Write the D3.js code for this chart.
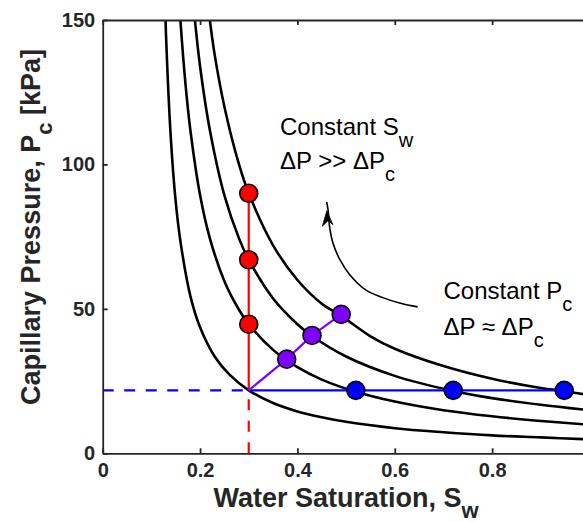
<!DOCTYPE html>
<html>
<head>
<meta charset="utf-8">
<script src="https://cdn.jsdelivr.net/npm/d3@7"></script>
<style>
  html, body { margin: 0; padding: 0; background: #fff; }
  svg { display: block; font-family: "Liberation Sans", Arial, Helvetica, sans-serif; }
</style>
</head>
<body>
<svg id="chart" width="583" height="522"></svg>
<script>
// ---------------- data ----------------
const xTickValues = [0, 0.2, 0.4, 0.6, 0.8];
const xTickLabels = ["0", "0.2", "0.4", "0.6", "0.8"];
const yTickValues = [0, 50, 100, 150];
const yTickLabels = ["0", "50", "100", "150"];

// four capillary-pressure curves (Sw, Pc in kPa)
const curve1Sw = [0.125, 0.13, 0.14, 0.15, 0.16, 0.18, 0.2, 0.23, 0.26, 0.3, 0.35, 0.4, 0.45, 0.5, 0.6, 0.7, 0.8, 0.9, 1.0];
const curve1Pc = [174, 145, 109, 87, 73, 54.5, 43.6, 33.5, 27.3, 21.8, 17.4, 14.5, 12.5, 10.9, 8.7, 7.3, 6.2, 5.5, 4.8];
const curve2Sw = [0.155, 0.16, 0.17, 0.18, 0.2, 0.22, 0.25, 0.28, 0.3, 0.35, 0.4, 0.45, 0.52, 0.6, 0.7, 0.8, 0.9, 1.0];
const curve2Pc = [162.5, 149, 128, 112, 89.4, 74.5, 59.6, 49.7, 44.7, 35.8, 29.8, 25.5, 21.3, 17.9, 14.9, 12.8, 11.2, 9.9];
const curve3Sw = [0.185, 0.19, 0.2, 0.22, 0.25, 0.28, 0.3, 0.35, 0.4, 0.43, 0.5, 0.6, 0.72, 0.8, 0.9, 1.0];
const curve3Pc = [158, 149, 134, 112, 89.3, 74.4, 67, 53.6, 44.7, 40.6, 33.5, 26.8, 21.6, 19.1, 16.8, 14.9];
const curve4Sw = [0.215, 0.22, 0.23, 0.25, 0.28, 0.3, 0.35, 0.4, 0.45, 0.49, 0.55, 0.6, 0.7, 0.8, 0.9, 0.95, 1.0];
const curve4Pc = [156.5, 150, 138, 120, 100, 90, 72, 60, 51.8, 47.6, 40.5, 36.2, 30.2, 25.8, 22.6, 21.5, 20.1];

const startSw = 0.3, startPc = 21.8;
// constant Sw (red)
const redSw = [0.3, 0.3, 0.3];
const redPc = [44.7, 67, 90];
// constant Pc (blue)
const blueSw = [0.52, 0.72, 0.948];
const bluePc = [21.8, 21.8, 21.8];
// intermediate path (purple)
const purpleSw = [0.378, 0.43, 0.49];
const purplePc = [32.6, 40.8, 48.1];

// curved annotation arrow (Sw, Pc)
const arrowSw = [0.647, 0.610, 0.541, 0.507, 0.487, 0.473, 0.466, 0.463, 0.460];
const arrowPc = [50.7, 52.0, 56.5, 61.9, 67.1, 72.8, 78.5, 84.2, 87.0];

// ---------------- drawing ----------------
const svg = d3.select("#chart");
const W = 583, H = 522;
const x = d3.scaleLinear().domain([0, 1]).range([102.7, 589.5]);
const y = d3.scaleLinear().domain([0, 150]).range([453.3, 20]);
const axisColor = "#262626";

svg.append("rect").attr("width", W).attr("height", H).attr("fill", "#fff");

svg.append("defs").append("clipPath").attr("id", "plotclip")
  .append("rect")
  .attr("x", x(0)).attr("y", y(150))
  .attr("width", x(1) - x(0)).attr("height", y(0) - y(150));

const plot = svg.append("g").attr("clip-path", "url(#plotclip)");

const line = d3.line().x(d => x(d[0])).y(d => y(d[1])).curve(d3.curveCatmullRom.alpha(0.5));
const curves = [
  [curve1Sw, curve1Pc], [curve2Sw, curve2Pc], [curve3Sw, curve3Pc], [curve4Sw, curve4Pc]
];
curves.forEach(([sw, pc]) => {
  plot.append("path")
    .datum(sw.map((s, i) => [s, pc[i]]))
    .attr("d", line)
    .attr("fill", "none")
    .attr("stroke", "#000")
    .attr("stroke-width", 2.6);
});

const straight = d3.line().x(d => x(d[0])).y(d => y(d[1]));

// dashed guide lines
plot.append("path").datum([[0, startPc], [startSw, startPc]]).attr("d", straight)
  .attr("stroke", "#0000ff").attr("stroke-width", 2.2).attr("stroke-dasharray", "11,10.5").attr("fill", "none");
plot.append("path").datum([[startSw, 0], [startSw, startPc]]).attr("d", straight)
  .attr("stroke", "#ff0000").attr("stroke-width", 2.2).attr("stroke-dasharray", "11,10.5").attr("fill", "none");

// solid paths
plot.append("path").datum([[startSw, startPc]].concat(redSw.map((s, i) => [s, redPc[i]]))).attr("d", straight)
  .attr("stroke", "#ff0000").attr("stroke-width", 2.2).attr("fill", "none");
plot.append("path").datum([[startSw, startPc]].concat(blueSw.map((s, i) => [s, bluePc[i]]))).attr("d", straight)
  .attr("stroke", "#0000ff").attr("stroke-width", 2.2).attr("fill", "none");
plot.append("path").datum([[startSw, startPc]].concat(purpleSw.map((s, i) => [s, purplePc[i]]))).attr("d", straight)
  .attr("stroke", "#8000ff").attr("stroke-width", 2.2).attr("fill", "none");

// markers
function dots(sw, pc, color) {
  svg.append("g").selectAll("circle").data(sw.map((s, i) => [s, pc[i]])).join("circle")
    .attr("cx", d => x(d[0])).attr("cy", d => y(d[1])).attr("r", 9)
    .attr("fill", color).attr("stroke", "#000").attr("stroke-width", 1.6);
}
dots(redSw, redPc, "#ff0000");
dots(purpleSw, purplePc, "#8000ff");
dots(blueSw, bluePc, "#0000ff");

// arrow
const arrowPts = arrowSw.map((s, i) => [s, arrowPc[i]]);
svg.append("path").datum(arrowPts)
  .attr("d", d3.line().x(d => x(d[0])).y(d => y(d[1])).curve(d3.curveCatmullRom.alpha(0.5)))
  .attr("fill", "none").attr("stroke", "#000").attr("stroke-width", 1.6);
{
  const tip = [x(0.4605), y(84.0)];
  svg.append("path")
    .attr("d", `M${tip[0]},${tip[1]} L${tip[0] + 6},${tip[1] + 14} L${tip[0] + 1.2},${tip[1] + 10} L${tip[0] - 4.5},${tip[1] + 15.5} Z`)
    .attr("fill", "#000").attr("stroke", "#000").attr("stroke-width", 0.8).attr("stroke-linejoin", "miter");
}

// axes
function styleAxis(g) {
  g.select(".domain").attr("stroke", axisColor).attr("stroke-width", 1.8);
  g.selectAll(".tick line").attr("stroke", axisColor).attr("stroke-width", 1.8);
  g.selectAll(".tick text").attr("fill", axisColor)
    .attr("font-family", "'Liberation Sans', Arial, Helvetica, sans-serif")
    .attr("font-weight", "bold").attr("font-size", 20);
}
const gx = svg.append("g").attr("transform", `translate(0,${y(0)})`)
  .call(d3.axisBottom(x).tickValues(xTickValues).tickFormat((d, i) => xTickLabels[i])
    .tickSizeInner(-5).tickSizeOuter(0).tickPadding(10));
styleAxis(gx);
const gxt = svg.append("g").attr("transform", `translate(0,${y(150)})`)
  .call(d3.axisTop(x).tickValues(xTickValues).tickFormat("").tickSizeInner(-5).tickSizeOuter(0));
styleAxis(gxt);
const gy = svg.append("g").attr("transform", `translate(${x(0)},0)`)
  .call(d3.axisLeft(y).tickValues(yTickValues).tickFormat((d, i) => yTickLabels[i])
    .tickSizeInner(-5).tickSizeOuter(0).tickPadding(7.5));
styleAxis(gy);
const gyr = svg.append("g").attr("transform", `translate(${x(1)},0)`)
  .call(d3.axisRight(y).tickValues(yTickValues).tickFormat("").tickSizeInner(-5).tickSizeOuter(0));
styleAxis(gyr);

// axis titles
const xt = svg.append("text").attr("x", 346).attr("y", 506.7).attr("text-anchor", "middle")
  .attr("font-weight", "bold").attr("font-size", 27).attr("fill", axisColor);
xt.append("tspan").text("Water Saturation, S");
xt.append("tspan").attr("dy", 11.5).attr("font-size", 22).text("w");

const yt = svg.append("text").attr("transform", "translate(40,227) rotate(-90)").attr("text-anchor", "middle")
  .attr("font-weight", "bold").attr("font-size", 27).attr("fill", axisColor);
yt.append("tspan").text("Capillary Pressure, P");
yt.append("tspan").attr("dy", 11.5).attr("font-size", 22).text("c");
yt.append("tspan").attr("dy", -11.5).text(" [kPa]");

// annotations
function annot(xp, yp, main, sub) {
  const t = svg.append("text").attr("x", xp).attr("y", yp).attr("font-size", 24).attr("fill", "#000");
  t.append("tspan").text(main);
  t.append("tspan").attr("dy", 12).attr("font-size", 20).text(sub);
}
annot(280, 135, "Constant S", "w");
annot(280, 168.5, "\u0394P >> \u0394P", "c");
annot(443.5, 298.5, "Constant P", "c");
annot(443.5, 335, "\u0394P \u2248 \u0394P", "c");
</script>
</body>
</html>
